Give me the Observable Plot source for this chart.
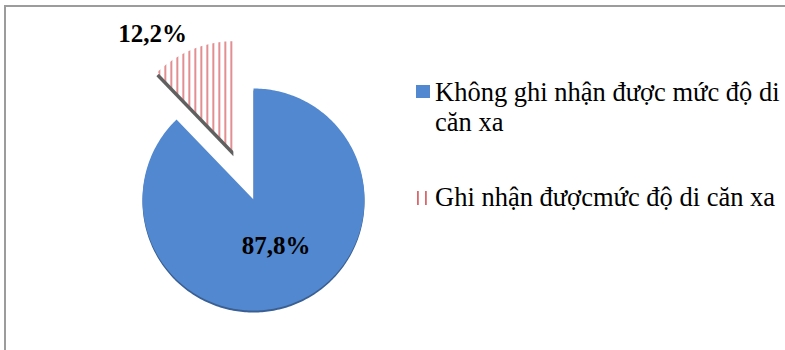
<!DOCTYPE html>
<html><head><meta charset="utf-8">
<script src="https://cdn.jsdelivr.net/npm/d3@7"></script>
<script src="https://cdn.jsdelivr.net/npm/@observablehq/plot@0.6"></script>
<style>
html,body{margin:0;padding:0;background:#fff;}
body{width:785px;height:350px;overflow:hidden;position:relative;font-family:"Liberation Serif","Times New Roman",serif;}
#frame{position:absolute;left:4px;top:5px;width:900px;height:500px;border-left:2px solid #9c9c9c;border-top:2px solid #9c9c9c;box-sizing:border-box;}
#chart{position:absolute;left:0;top:0;}
.leg{position:absolute;left:414px;width:370px;font-size:26.5px;line-height:30px;color:#000;}
.leg .txt{position:absolute;left:21px;top:0;width:350px;}
.leg svg{position:absolute;left:0;top:8px;}
</style>
</head><body>
<div id="frame"></div>
<div id="chart"></div>
<div id="legend"></div>
<script>
const categories = ["Không ghi nhận được mức độ di căn xa", "Ghi nhận đượcmức độ di căn xa"];
const values = [87.8, 12.2];
const labels = ["87,8%", "12,2%"];
const colors = ["#5288cf", "url(#stripes)"];

// layout / style (not data)
const cx = 253, cy = 199, R = 111;
const explode = [0, 0.46];
const labelRadius = [0.45, 1.15];
const labelDx = [4, -34];

const arcs = d3.pie().sort(null).startAngle(0).endAngle(2 * Math.PI)(values);

const pts = [];
const labelPts = [];
arcs.forEach((a, i) => {
  const mid = (a.startAngle + a.endAngle) / 2;
  const ox = explode[i] * Math.sin(mid), oy = explode[i] * Math.cos(mid);
  const poly = [{slice: i, x: ox, y: oy}];
  const n = Math.max(4, Math.ceil((a.endAngle - a.startAngle) / (Math.PI / 180)));
  for (let k = 0; k <= n; k++) {
    const t = a.startAngle + (a.endAngle - a.startAngle) * k / n;
    poly.push({slice: i, x: ox + Math.sin(t), y: oy + Math.cos(t)});
  }
  poly.push({slice: i, x: ox, y: oy});
  pts.push(...poly);
  labelPts.push({
    slice: i, label: labels[i],
    x: ox + labelRadius[i] * Math.sin(mid),
    y: oy + labelRadius[i] * Math.cos(mid)
  });
});

const slice = i => pts.filter(d => d.slice === i);

const plot = Plot.plot({
  width: 785, height: 350,
  margin: 0,
  x: {domain: [-1, 1], range: [cx - R, cx + R], axis: null},
  y: {domain: [-1, 1], range: [cy + R, cy - R], axis: null},
  marks: [
    // 3D rim / shadow
    Plot.line(slice(0), {x: "x", y: "y", fill: "#3a5f92", stroke: "none", dy: 2, curve: "linear"}),
    Plot.line(slice(1), {x: "x", y: "y", fill: "#606060", stroke: "none", dy: 4, dx: -1, curve: "linear"}),
    Plot.line(slice(0), {x: "x", y: "y", fill: colors[0], stroke: "none", curve: "linear"}),
    Plot.line(slice(1), {x: "x", y: "y", fill: colors[1], stroke: "none", curve: "linear"}),
    Plot.text(labelPts, {
      x: "x", y: "y", text: "label",
      fontSize: 25, fontWeight: "bold", fontFamily: "'Liberation Serif', 'Times New Roman', serif",
      fill: "#000", lineAnchor: "middle", textAnchor: "middle"
    })
  ]
});

// apply label offsets
plot.querySelectorAll("text").forEach((t, i) => {
  if (i < labelDx.length) t.setAttribute("transform", `translate(${labelDx[i]},0)` + (t.getAttribute("transform") ? " " + t.getAttribute("transform") : ""));
});

// stripe pattern
const defs = document.createElementNS("http://www.w3.org/2000/svg", "defs");
defs.innerHTML = `<pattern id="stripes" patternUnits="userSpaceOnUse" width="6" height="10" x="1">
  <rect width="6" height="10" fill="#fff"/>
  <rect x="1" y="0" width="1.5" height="10" fill="#d9686c"/>
</pattern>`;
plot.insertBefore(defs, plot.firstChild);
document.getElementById("chart").appendChild(plot);

// legend
const legend = document.getElementById("legend");
const legTops = [77, 182];
categories.forEach((c, i) => {
  const div = document.createElement("div");
  div.className = "leg";
  div.style.top = legTops[i] + "px";
  const sw = i === 0
    ? `<svg width="16" height="16"><rect x="2" y="0" width="14" height="13" fill="${colors[0]}"/></svg>`
    : `<svg width="16" height="16"><defs><pattern id="lp" patternUnits="userSpaceOnUse" width="8" height="14"><rect width="8" height="14" fill="#fff"/><rect x="3" width="1.8" height="14" fill="#d9686c"/></pattern></defs><rect x="0" y="1" width="16" height="14" fill="url(#lp)"/></svg>`;
  div.innerHTML = sw + `<div class="txt">${c}</div>`;
  legend.appendChild(div);
});
</script>
</body></html>
